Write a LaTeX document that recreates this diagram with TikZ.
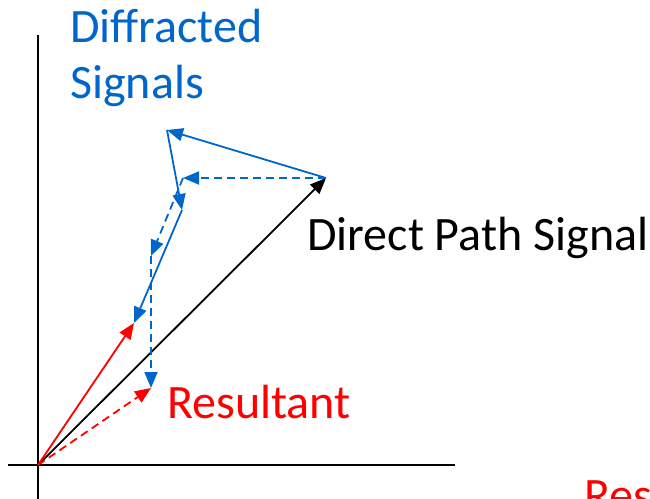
\documentclass[tikz,border=0pt]{standalone}
\usepackage{fontspec}
\setmainfont{Carlito}
\usetikzlibrary{arrows.meta}
\definecolor{dblue}{HTML}{0066CC}
\definecolor{dred}{HTML}{FF0000}
\tikzset{
  axis/.style={line width=2.4pt,black},
  vec/.style={line width=1.8pt,-{Triangle[length=16pt,width=13pt]}},
  dvec/.style={vec,dash pattern=on 8pt off 5pt},
  lbl/.style={inner sep=0pt,anchor=base west,font=\fontsize{48}{58}\selectfont},
}
\begin{document}
\begin{tikzpicture}[x=1pt,y=-1pt]
\useasboundingbox (0,0) rectangle (650,498);
\clip (0,0) rectangle (650,498);
% points
\coordinate (O) at (38,465);
\coordinate (ytop) at (38,35);
\coordinate (ybot) at (38,500);
\coordinate (xl) at (8,465);
\coordinate (xr) at (455,465);
\coordinate (A) at (326,178);
\coordinate (B) at (167,130);
\coordinate (C) at (182,210);
\coordinate (D) at (134,323);
\coordinate (E) at (183,178);
\coordinate (F) at (151,256);
\coordinate (G) at (151,388);
% axes
\draw[axis] (ytop) -- (ybot);
\draw[axis] (xl) -- (xr);
% direct path
\draw[vec,black] (O) -- (A);
% diffracted (solid)
\draw[vec,dblue] (A) -- (B);
\draw[vec,dblue] (B) -- (C);
\draw[vec,dblue] (C) -- (D);
% diffracted (dashed)
\draw[dvec,dblue] (A) -- (E);
\draw[dvec,dblue] (E) -- (F);
\draw[dvec,dblue] (F) -- (G);
% resultants
\draw[vec,dred] (O) -- (D);
\draw[dvec,dred] (O) -- (G);
% labels
\node[lbl,text=dblue] (t1) at (70,42) {Diffracted};
\node[lbl,text=dblue] (t2) at (70,98) {Signals};
\node[lbl,text=black] (t3) at (307,250) {Direct Path Signal};
\node[lbl,text=dred] (t4) at (167,418) {Resultant};
\node[lbl,text=dred] (t5) at (584,511) {Res};
\end{tikzpicture}
\end{document}
